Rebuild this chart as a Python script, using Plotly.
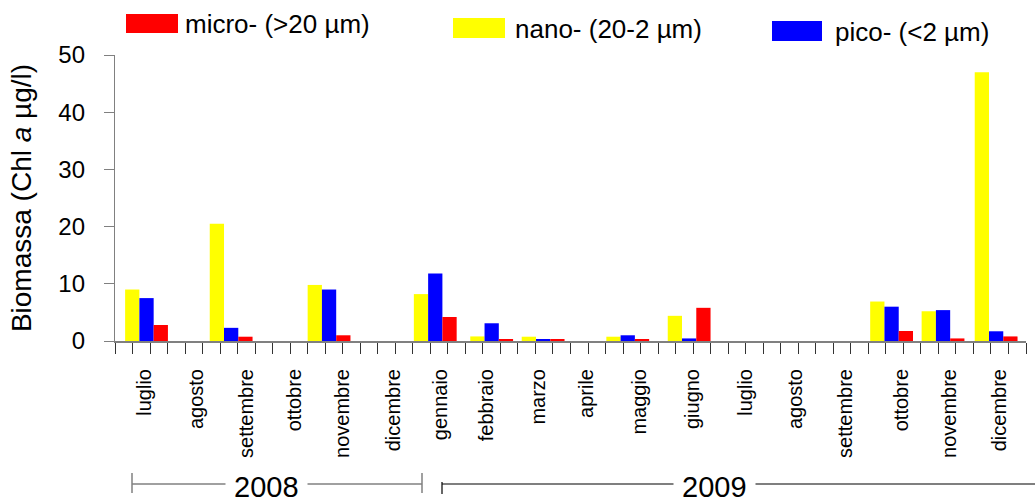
import plotly.graph_objects as go

# ---------------- data ----------------
sample_dates = ["2008-07-20", "2008-09-09", "2008-11-07", "2009-01-10", "2009-02-13",
                "2009-03-16", "2009-05-06", "2009-06-12", "2009-10-12", "2009-11-12",
                "2009-12-14"]
nano = [9.0, 20.5, 9.8, 8.2, 0.8, 0.75, 0.75, 4.4, 6.9, 5.2, 47.0]
pico = [7.5, 2.3, 9.0, 11.8, 3.1, 0.3, 1.0, 0.45, 6.0, 5.4, 1.7]
micro = [2.8, 0.75, 1.0, 4.2, 0.3, 0.3, 0.3, 5.8, 1.75, 0.45, 0.8]

month_labels = ["luglio", "agosto", "settembre", "ottobre", "novembre", "dicembre",
                "gennaio", "febbraio", "marzo", "aprile", "maggio", "giugno",
                "luglio", "agosto", "settembre", "ottobre", "novembre", "dicembre"]
month_label_dates = ["2008-07-19", "2008-08-19", "2008-09-18", "2008-10-17", "2008-11-15",
                     "2008-12-16", "2009-01-13", "2009-02-10", "2009-03-13", "2009-04-11",
                     "2009-05-13", "2009-06-14", "2009-07-16", "2009-08-15", "2009-09-14",
                     "2009-10-18", "2009-11-16", "2009-12-16"]

series_names = {"micro": "micro- (>20 \u00b5m)", "nano": "nano- (20-2 \u00b5m)", "pico": "pico- (<2 \u00b5m)"}
colors = {"micro": "#FF0000", "nano": "#FFFF00", "pico": "#0000FF"}

# ---------------- layout geometry ----------------
W, H = 1035, 502
ML, MR, MT, MB = 115, 9, 55, 161
PW, PH = W - ML - MR, H - MT - MB
FONT = "Arial, Liberation Sans, sans-serif"

DAY = 86400000
x_start, x_end = "2008-07-01", "2010-01-01"
n_days = 549
minor_dtick = n_days * DAY / 52
bar_w = 8.6 * DAY


def px(x):
    return (x - ML) / PW


def py(y):
    return (H - MB - y) / PH


fig = go.Figure()
order = [("nano", nano, -1.5), ("pico", pico, -0.5), ("micro", micro, 0.5)]
for key, vals, k in order:
    fig.add_trace(go.Bar(
        x=sample_dates, y=vals, name=series_names[key],
        marker=dict(color=colors[key], line=dict(width=0)),
        width=bar_w, offset=k * bar_w, showlegend=False,
    ))

# custom legend (large swatches, staggered like the original)
legend_pos = [("micro", 126, 178, 14, 33, 183), ("nano", 453, 505, 18, 38, 513),
              ("pico", 772, 822, 21, 41, 833)]
for key, x0, x1, y0, y1, tx in legend_pos:
    fig.add_shape(type="rect", xref="paper", yref="paper",
                  x0=px(x0), x1=px(x1), y0=py(y1), y1=py(y0),
                  fillcolor=colors[key], line=dict(width=0))
    fig.add_annotation(xref="paper", yref="paper", x=px(tx), y=py((y0 + y1) / 2 + 1),
                       text=series_names[key], showarrow=False, xanchor="left",
                       yanchor="middle", font=dict(family=FONT, size=26, color="black"))

# year brackets
gray = "#808080"
fig.add_shape(type="line", xref="paper", yref="paper", x0=px(132), x1=px(422),
              y0=py(484), y1=py(484), line=dict(color=gray, width=1.5))
for xc in (132, 422):
    fig.add_shape(type="line", xref="paper", yref="paper", x0=px(xc), x1=px(xc),
                  y0=py(473), y1=py(493), line=dict(color=gray, width=1.5))
fig.add_shape(type="line", xref="paper", yref="paper", x0=px(442), x1=px(1040),
              y0=py(484), y1=py(484), line=dict(color="black", width=1.2))
fig.add_shape(type="line", xref="paper", yref="paper", x0=px(442), x1=px(442),
              y0=py(482), y1=py(494), line=dict(color="black", width=1.2))
for txt, xc in (("2008", 266), ("2009", 714)):
    fig.add_annotation(xref="paper", yref="paper", x=px(xc), y=py(487), text=txt,
                       showarrow=False, xanchor="center", yanchor="middle",
                       bgcolor="white", borderpad=8,
                       font=dict(family=FONT, size=29, color="black"))

fig.update_layout(
    width=W, height=H,
    margin=dict(l=ML, r=MR, t=MT, b=MB, autoexpand=False),
    paper_bgcolor="white", plot_bgcolor="white",
    barmode="overlay", showlegend=False,
    font=dict(family=FONT, color="black"),
    xaxis=dict(
        type="date", range=[x_start, x_end], automargin=False,
        tickmode="array", tickvals=month_label_dates, ticktext=month_labels,
        tickangle=-90, ticks="", showgrid=False, zeroline=False,
        showline=True, linecolor=gray, linewidth=2,
        tickfont=dict(family=FONT, size=20, color="black"),
        ticklabelstandoff=18,
        minor=dict(ticks="outside", ticklen=11, tickwidth=1, tickcolor="#333333",
                   tickmode="linear", tick0=x_start, dtick=minor_dtick, showgrid=False),
    ),
    yaxis=dict(
        range=[0, 50], dtick=10, tick0=0, automargin=False,
        ticks="outside", ticklen=10, tickcolor=gray, tickwidth=1,
        showline=True, linecolor=gray, linewidth=1.3, showgrid=False, zeroline=False,
        tickfont=dict(family=FONT, size=24, color="black"),
        ticklabelstandoff=14,
        title=dict(text="Biomassa (Chl <i>a</i> \u00b5g/l)", standoff=18,
                   font=dict(family=FONT, size=28, color="black")),
    ),
)

fig.write_html("out.html")
